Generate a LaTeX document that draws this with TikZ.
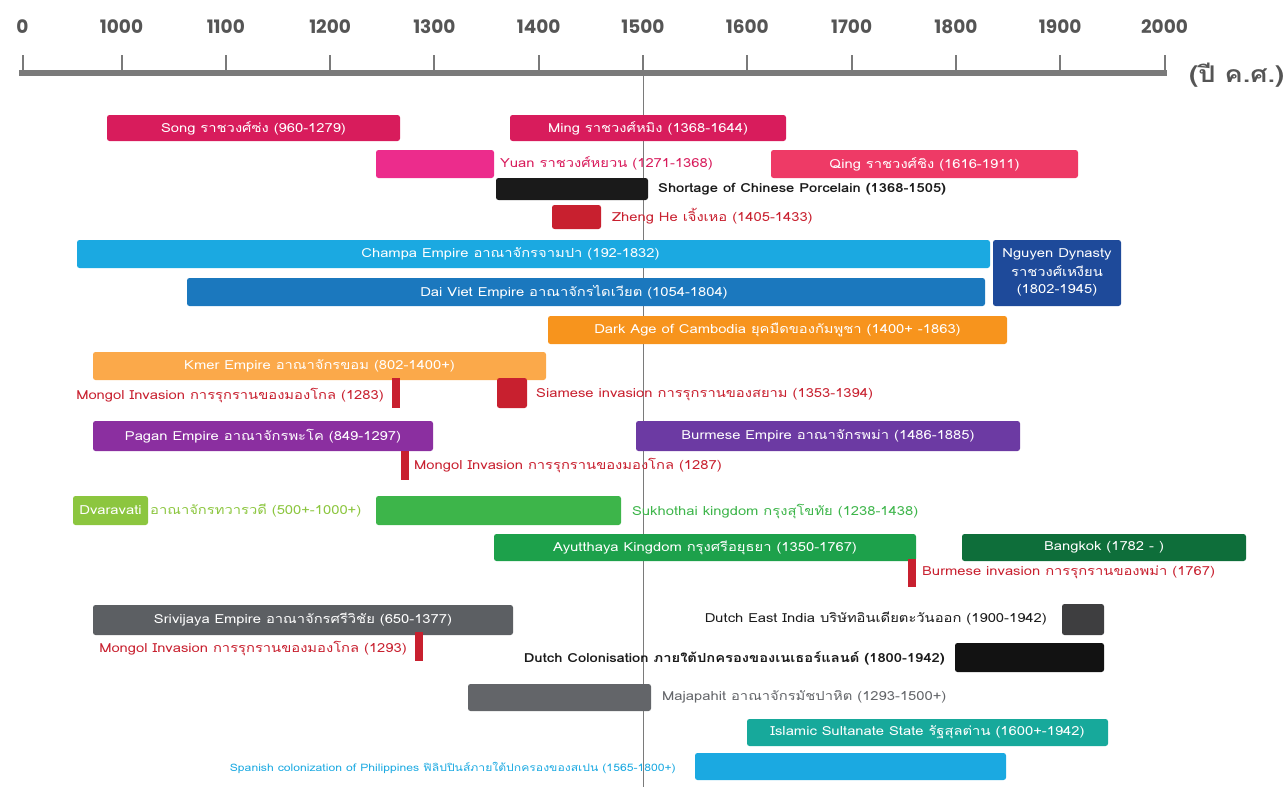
\documentclass[tikz,border=0pt]{standalone}
\usepackage{fontspec}
\setmainfont{Loma}[Script=Thai, FakeStretch=1.18]
\newfontfamily\axf{Poppins}
\definecolor{axisgray}{HTML}{7A7A7A}
\definecolor{axtext}{HTML}{555555}
\definecolor{songc}{HTML}{D81C5C}
\definecolor{yuanc}{HTML}{EC2C8C}
\definecolor{qingc}{HTML}{EE3A66}
\definecolor{blackc}{HTML}{1A1A1A}
\definecolor{redc}{HTML}{C8202F}
\definecolor{champac}{HTML}{1BA9E1}
\definecolor{daivietc}{HTML}{1B78BE}
\definecolor{nguyenc}{HTML}{1E4A9A}
\definecolor{darkagec}{HTML}{F7941D}
\definecolor{khmerc}{HTML}{FBA94A}
\definecolor{paganc}{HTML}{8B2FA0}
\definecolor{burmesec}{HTML}{6C3AA3}
\definecolor{dvarac}{HTML}{8CC63F}
\definecolor{sukhoc}{HTML}{3DB54A}
\definecolor{ayuttc}{HTML}{1DA14B}
\definecolor{bangkokc}{HTML}{0E6E3A}
\definecolor{srivic}{HTML}{5C5F63}
\definecolor{dutchei}{HTML}{3E3E40}
\definecolor{dutchcol}{HTML}{121212}
\definecolor{majac}{HTML}{636569}
\definecolor{islamc}{HTML}{17A99B}
\tikzset{
  barbox/.style={rounded corners=2.5pt, inner sep=0pt, text=white, font=\fontsize{12.5}{13}\selectfont},
  redtick/.style={fill=redc, inner sep=0pt},
  lab/.style={inner sep=0pt, font=\fontsize{12.5}{14}\selectfont},
  yearlab/.style={inner sep=0pt, text=axtext, font=\axf\bfseries\fontsize{18.5}{20}\selectfont},
}
\newcommand\tlbar[7]{\node[barbox, fill=#6, minimum width={(#4-#2)*1pt}, minimum height={(#5-#3)*1pt}] (#1) at ({(#2+#4)/2},{(#3+#5)/2}) {#7};}
\newcommand\tltick[5]{\node[redtick, minimum width={(#4-#2)*1pt}, minimum height={(#5-#3)*1pt}] (#1) at ({(#2+#4)/2},{(#3+#5)/2}) {};}
\begin{document}
\begin{tikzpicture}[x=1pt,y=-1pt]
\useasboundingbox (0,0) rectangle (1287,787);
% axis
\coordinate (axl) at (19,73);
\coordinate (axr) at (1167,73);
\coordinate (vtop) at (643,76);
\coordinate (vbot) at (643,787);
\draw[axisgray, line width=0.8pt] (vtop) -- (vbot);
\draw[axisgray, line width=6pt] (axl) -- (axr);
\draw[axisgray, line width=2pt] (22.5,55) coordinate (t0) -- (22.5,73);
\node[yearlab] (y0) at (22.5,27) {0};
\foreach \k/\yr in {0/1000,1/1100,2/1200,3/1300,4/1400,5/1500,6/1600,7/1700,8/1800,9/1900,10/2000}{
  \draw[axisgray, line width=2pt] ({121.5+\k*104.3},55) coordinate (t\yr) -- ({121.5+\k*104.3},73);
  \node[yearlab] (y\yr) at ({121.5+\k*104.3},27) {\yr};
}
\node[inner sep=0pt, anchor=west, text=axtext, font=\bfseries\fontsize{23}{25}\selectfont] (unit) at (1189,75) {(ปี ค.ศ.)};
% Chinese dynasties
\tlbar{song}{107}{115}{400}{141}{songc}{Song ราชวงศ์ซ่ง (960-1279)}
\tlbar{ming}{510}{115}{786}{141}{songc}{Ming ราชวงศ์หมิง (1368-1644)}
\tlbar{yuan}{376}{150}{494}{178}{yuanc}{}
\node[lab, anchor=west, text=songc] (yuanl) at (500,163) {Yuan ราชวงศ์หยวน (1271-1368)};
\tlbar{qing}{771}{150}{1078}{178}{qingc}{Qing ราชวงศ์ชิง (1616-1911)}
\tlbar{short}{496}{178}{648}{200}{blackc}{}
\node[lab, anchor=west, text=blackc, font=\bfseries\fontsize{12.5}{14}\selectfont] (shortl) at (658,189) {Shortage of Chinese Porcelain (1368-1505)};
\tlbar{zheng}{552}{205}{601}{229}{redc}{}
\node[lab, anchor=west, text=redc] (zhengl) at (612,216) {Zheng He เจิ้งเหอ (1405-1433)};
% Vietnam / Cambodia
\tlbar{champa}{77}{240}{990}{268}{champac}{Champa Empire อาณาจักรจามปา (192-1832)\hspace*{46pt}}
\tlbar{daiviet}{187}{278}{985}{306}{daivietc}{Dai Viet Empire อาณาจักรไดเวียต (1054-1804)\hspace*{24pt}}
\tlbar{nguyen}{993}{240}{1121}{306}{nguyenc}{\begin{tabular}{@{}c@{}}Nguyen Dynasty\\[4pt]ราชวงศ์เหงียน\\[4pt](1802-1945)\end{tabular}}
\tlbar{darkage}{548}{316}{1007}{344}{darkagec}{Dark Age of Cambodia ยุคมืดของกัมพูชา (1400+ -1863)}
\tlbar{khmer}{93}{352}{546}{380}{khmerc}{Kmer Empire อาณาจักรขอม (802-1400+)}
\tltick{mong1}{392}{378}{400}{408}
\node[lab, anchor=east, text=redc] (mong1l) at (384,395) {Mongol Invasion การรุกรานของมองโกล (1283)};
\tlbar{siam}{497}{378}{527}{408}{redc}{}
\node[lab, anchor=west, text=redc] (siaml) at (536,395) {Siamese invasion การรุกรานของสยาม (1353-1394)};
% Burma
\tlbar{pagan}{93}{421}{433}{451}{paganc}{Pagan Empire อาณาจักรพะโค (849-1297)}
\tlbar{burmese}{636}{421}{1020}{451}{burmesec}{Burmese Empire อาณาจักรพม่า (1486-1885)}
\tltick{mong2}{401}{451}{409}{480}
\node[lab, anchor=west, text=redc] (mong2l) at (414,465) {Mongol Invasion การรุกรานของมองโกล (1287)};
% Thailand
\tlbar{dvara}{73}{496}{148}{525}{dvarac}{Dvaravati}
\node[lab, anchor=west, text=dvarac] (dvaral) at (150,511) {อาณาจักรทวารวดี (500+-1000+)};
\tlbar{sukho}{376}{496}{621}{525}{sukhoc}{}
\node[lab, anchor=west, text=sukhoc] (sukhol) at (632,511) {Sukhothai kingdom กรุงสุโขทัย (1238-1438)};
\tlbar{ayutt}{494}{534}{916}{561}{ayuttc}{Ayutthaya Kingdom กรุงศรีอยุธยา (1350-1767)}
\tlbar{bangkok}{962}{534}{1246}{561}{bangkokc}{Bangkok (1782 - )}
\tltick{burinv}{908}{559}{916}{587}
\node[lab, anchor=west, text=redc] (burinvl) at (922,572) {Burmese invasion การรุกรานของพม่า (1767)};
% Maritime
\tlbar{srivi}{93}{605}{513}{635}{srivic}{Srivijaya Empire อาณาจักรศรีวิชัย (650-1377)}
\tltick{mong3}{415}{632}{423}{661}
\node[lab, anchor=east, text=redc] (mong3l) at (407,648) {Mongol Invasion การรุกรานของมองโกล (1293)};
\tlbar{dei}{1062}{604}{1104}{635}{dutchei}{}
\node[lab, anchor=east, text=blackc] (deil) at (1047,619) {Dutch East India บริษัทอินเดียตะวันออก (1900-1942)};
\tlbar{dcol}{955}{643}{1104}{672}{dutchcol}{}
\node[lab, anchor=east, text=blackc, font=\bfseries\fontsize{12.5}{14}\selectfont] (dcoll) at (945,658) {Dutch Colonisation ภายใต้ปกครองของเนเธอร์แลนด์ (1800-1942)};
\tlbar{maja}{468}{684}{651}{711}{majac}{}
\node[lab, anchor=west, text=majac] (majal) at (662,697) {Majapahit อาณาจักรมัชปาหิต (1293-1500+)};
\tlbar{islam}{747}{719}{1108}{746}{islamc}{Islamic Sultanate State รัฐสุลต่าน (1600+-1942)}
\tlbar{spain}{695}{753}{1006}{780}{champac}{}
\node[lab, anchor=east, text=champac, font=\fontsize{10.3}{12}\selectfont] (spainl) at (676,768) {Spanish colonization of Philippines ฟิลิปปินส์ภายใต้ปกครองของสเปน (1565-1800+)};
\end{tikzpicture}
\end{document}
